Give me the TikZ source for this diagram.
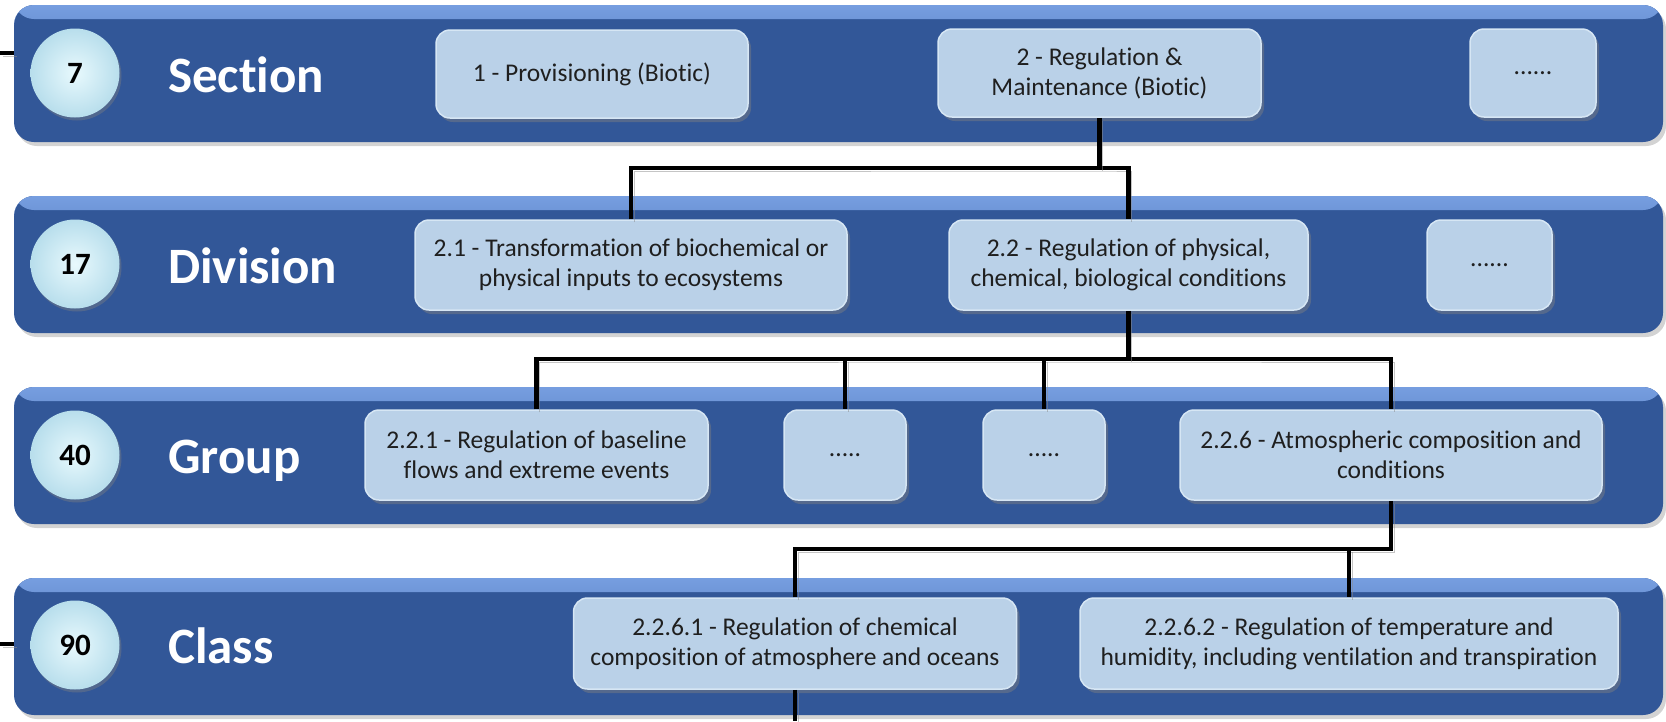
\documentclass[tikz,border=0pt]{standalone}
\usepackage{fontspec}
\setmainfont{Carlito}[Ligatures=NoCommon]
\usetikzlibrary{shadows}
\definecolor{bandblue}{RGB}{50,87,152}
\definecolor{bandtop}{RGB}{118,158,224}
\definecolor{boxfill}{RGB}{186,209,232}
\definecolor{boxedge}{RGB}{214,230,244}
\definecolor{circlight}{RGB}{232,249,253}
\definecolor{circedge}{RGB}{184,222,236}
\tikzset{
  band/.style={rounded corners=20pt, fill=bandblue, minimum width=1649pt, minimum height=137pt,
    drop shadow={shadow xshift=3pt, shadow yshift=-4pt, opacity=0.35},
    path picture={\shade[top color=bandtop, bottom color=bandblue]
      (path picture bounding box.north west) rectangle ([yshift=-14pt]path picture bounding box.north east);}},
  numcirc/.style={circle, minimum size=89pt, inner sep=0pt, inner color=circlight, outer color=circedge,
    drop shadow={shadow xshift=2pt, shadow yshift=-3pt, opacity=0.4},
    font=\bfseries\fontsize{31}{31}\selectfont},
  lvl/.style={anchor=base west, inner sep=0pt, text=white, font=\bfseries\fontsize{51}{51}\selectfont},
  cell/.style={rounded corners=14pt, fill=boxfill, draw=boxedge, line width=1.5pt, align=center,
    inner sep=0pt, text=black!88, font=\fontsize{25.5}{30}\selectfont,
    drop shadow={shadow xshift=3pt, shadow yshift=-4pt, opacity=0.45}},
  conn/.style={line width=4.5pt, black,
    preaction={draw=black!45, opacity=0.5, transform canvas={shift={(3pt,-3pt)}}}}
}
\begin{document}
\begin{tikzpicture}[x=1pt,y=-1pt]
\useasboundingbox (0,0) rectangle (1666,721);
% the four levels
\node[band] (secband) at (838.5,73.5) {};
\node[band] (divband) at (838.5,264.5) {};
\node[band] (grpband) at (838.5,455.5) {};
\node[band] (clsband) at (838.5,646.5) {};
\node[numcirc] (secnum) at (75,73) {7};
\node[numcirc] (divnum) at (75,264) {17};
\node[numcirc] (grpnum) at (75,455) {40};
\node[numcirc] (clsnum) at (75,645) {90};
\node[lvl] (seclab) at (168,92) {Section};
\node[lvl] (divlab) at (168,283) {Division};
\node[lvl] (grplab) at (168,473) {Group};
\node[lvl] (clslab) at (168,663) {Class};
% section
\node[cell, minimum width=312pt, minimum height=88pt] (sec1) at (592,74) {1 - Provisioning (Biotic)};
\node[cell, minimum width=323pt, minimum height=88pt] (sec2) at (1099.5,73) {2 - Regulation \&\\Maintenance (Biotic)};
\node[cell, minimum width=126pt, minimum height=88pt] (sec3) at (1533,73) {......};
% division
\node[cell, minimum width=432pt, minimum height=90pt] (div1) at (631,265) {2.1 - Transformation of biochemical or\\physical inputs to ecosystems};
\node[cell, minimum width=359pt, minimum height=90pt] (div2) at (1128.5,265) {2.2 - Regulation of physical,\\chemical, biological conditions};
\node[cell, minimum width=125pt, minimum height=90pt] (div3) at (1489.5,265) {......};
% group
\node[cell, minimum width=343pt, minimum height=90pt] (grp1) at (536.5,455) {2.2.1 - Regulation of baseline\\flows and extreme events};
\node[cell, minimum width=122pt, minimum height=90pt] (grp2) at (845,455) {.....};
\node[cell, minimum width=122pt, minimum height=90pt] (grp3) at (1044,455) {.....};
\node[cell, minimum width=422pt, minimum height=90pt] (grp4) at (1391,455) {2.2.6 - Atmospheric composition and\\conditions};
% class
\node[cell, minimum width=443pt, minimum height=91pt] (cls1) at (795,643.5) {2.2.6.1 - Regulation of chemical\\composition of atmosphere and oceans};
\node[cell, minimum width=538pt, minimum height=91pt] (cls2) at (1349,643.5) {2.2.6.2 - Regulation of temperature and\\humidity, including ventilation and transpiration};
% connectors
\coordinate (j1) at (1099.5,168);
\coordinate (j2) at (1128.5,359);
\coordinate (j3) at (1391,549);
\coordinate (bot) at (0,721);
\coordinate (secin) at (0,53);
\coordinate (clsin) at (0,644);
\draw[conn] (div1.north) |- (j1) -| (div2.north);
\draw[conn] (sec2.south) -- (j1);
\draw[conn] (grp1.north) |- (j2) -| (grp4.north);
\draw[conn] (div2.south) -- (j2);
\draw[conn] (j2 -| grp2.north) -- (grp2.north);
\draw[conn] (j2 -| grp3.north) -- (grp3.north);
\draw[conn] (cls1.north) |- (j3) -- (grp4.south);
\draw[conn] (j3 -| cls2.north) -- (cls2.north);
\draw[conn] (cls1.south) -- (cls1.south |- bot);
\draw[conn] (secin) -- (secin -| secband.west);
\draw[conn] (clsin) -- (clsin -| clsband.west);
\end{tikzpicture}
\end{document}
